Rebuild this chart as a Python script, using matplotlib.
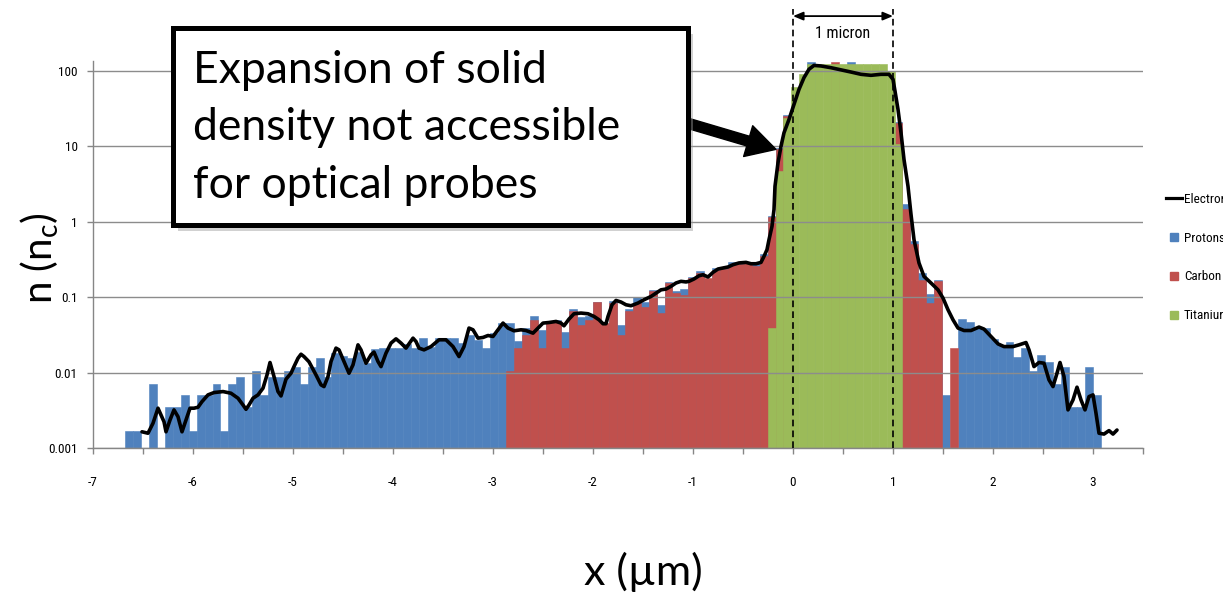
import numpy as np
import matplotlib
matplotlib.use("Agg")
import matplotlib.pyplot as plt
import matplotlib.transforms as mtransforms
from matplotlib.lines import Line2D
from matplotlib.patches import Rectangle
from matplotlib.ticker import FixedLocator, NullLocator

# histogram grid along x (um)
bin_start = -6.677
bin_width = 0.0793
n_bins = 123
n_floor = 0.001

# species densities per bin (n_c); None = no bar
protons = [0.0017, 0.0017, None, 0.0071, None, 0.0035, 0.0035, 0.0051, 0.0017, 0.0051,
           0.0051, 0.0071, 0.0017, 0.0071, 0.0087, 0.0035, 0.0105, 0.0051, 0.0087, 0.0087,
           0.0105, 0.012, 0.0071, 0.012, 0.0158, 0.0087, 0.0184, 0.0168, 0.0158, 0.019,
           0.0133, 0.0205, 0.021, 0.021, 0.021, 0.0238, 0.021, 0.029, 0.022, 0.029,
           0.029, 0.029, 0.025, 0.0317, 0.027, 0.021, 0.033, 0.045, 0.045, 0.026,
           0.039, 0.0555, 0.037, 0.049, 0.050, 0.035, 0.069, 0.055, 0.057, 0.087,
           0.040, 0.088, 0.043, 0.069, 0.10, 0.085, 0.125, 0.079, 0.16, 0.12,
           0.128, 0.185, 0.22, 0.17, 0.24, 0.25, 0.29, 0.29, 0.29, 0.28,
           0.37, 1.2, 9.6, 26, None, None, 130, None, None, None,
           None, 130, None, None, None, None, None, 21, 1.74, 0.55,
           0.21, 0.111, 0.17, 0.0051, None, 0.051, 0.0475, 0.039, 0.039, 0.0278,
           0.0233, 0.0257, 0.016, 0.021, 0.0106, 0.0172, 0.014, 0.0071, 0.0118, 0.0035,
           0.0035, 0.0118, 0.0051]

carbon_first_bin = 48
carbon = [0.0105, 0.021, 0.0317, 0.050, 0.021, 0.0475, 0.048, 0.021, 0.065, 0.043,
          0.050, 0.085, 0.045, 0.084, 0.0317, 0.065, 0.084, 0.075, 0.12, 0.062,
          0.154, 0.115, 0.108, 0.179, 0.21, 0.179, 0.226, 0.235, 0.268, 0.276,
          0.282, 0.255, 0.35, 1.16, 9.3, 25, None, None, None, None,
          None, 130, None, None, None, None, None, None, None, 20.5,
          1.48, 0.50, 0.17, 0.083, 0.166, None, 0.021]

titanium_first_bin = 81
titanium = [0.039, 4.67, 23.9, 61.7, 90, 125, 125, 125, 125, 125,
            125, 125, 125, 125, 125, 100, 10.6]

electron_x = [-6.51, -6.45, -6.40, -6.35, -6.29, -6.27, -6.23, -6.19, -6.15, -6.11,
              -6.07, -6.03, -5.99, -5.95, -5.91, -5.85, -5.79, -5.70, -5.62, -5.55,
              -5.50, -5.47, -5.44, -5.40, -5.35, -5.30, -5.26, -5.23, -5.19, -5.15,
              -5.12, -5.07, -5.02, -4.99, -4.95, -4.92, -4.89, -4.84, -4.77, -4.72,
              -4.69, -4.65, -4.62, -4.57, -4.54, -4.49, -4.44, -4.40, -4.35, -4.32,
              -4.27, -4.22, -4.19, -4.15, -4.12, -4.07, -4.02, -3.97, -3.92, -3.87,
              -3.80, -3.77, -3.74, -3.69, -3.62, -3.54, -3.47, -3.40, -3.34, -3.29,
              -3.24, -3.20, -3.15, -3.10, -3.05, -3.00, -2.95, -2.90, -2.85, -2.79,
              -2.72, -2.67, -2.60, -2.55, -2.50, -2.44, -2.37, -2.32, -2.29, -2.24,
              -2.19, -2.12, -2.05, -1.99, -1.94, -1.90, -1.87, -1.85, -1.81, -1.77,
              -1.72, -1.67, -1.62, -1.55, -1.49, -1.42, -1.37, -1.32, -1.27, -1.22,
              -1.17, -1.12, -1.07, -1.04, -0.99, -0.94, -0.90, -0.85, -0.80, -0.75,
              -0.70, -0.65, -0.60, -0.54, -0.47, -0.42, -0.37, -0.32, -0.29, -0.26,
              -0.24, -0.21, -0.19, -0.18, -0.15, -0.12, -0.09, -0.04, 0.01, 0.06,
              0.11, 0.16, 0.21, 0.28, 0.38, 0.48, 0.58, 0.68, 0.78, 0.88,
              0.96, 1.00, 1.02, 1.05, 1.08, 1.11, 1.15, 1.18, 1.21, 1.26,
              1.31, 1.38, 1.45, 1.50, 1.55, 1.60, 1.65, 1.71, 1.78, 1.86,
              1.91, 1.98, 2.05, 2.11, 2.20, 2.26, 2.33, 2.36, 2.41, 2.46,
              2.51, 2.56, 2.60, 2.64, 2.67, 2.71, 2.75, 2.80, 2.84, 2.88,
              2.92, 2.96, 3.00, 3.03, 3.06, 3.11, 3.16, 3.20, 3.24]
electron_n = [0.00164, 0.00157, 0.00213, 0.00337, 0.00223, 0.00164, 0.00235, 0.0032, 0.0026, 0.00164,
              0.00235, 0.00337, 0.00337, 0.00347, 0.00412, 0.00506, 0.00543, 0.0056, 0.00532, 0.00457,
              0.00372, 0.00326, 0.00372, 0.00457, 0.00506, 0.00621, 0.0093, 0.0136, 0.00885, 0.0056,
              0.0049, 0.00817, 0.0098, 0.012, 0.0155, 0.0175, 0.0163, 0.0139, 0.0093, 0.00687,
              0.00652, 0.00885, 0.014, 0.0211, 0.020, 0.014, 0.0098, 0.01265, 0.0233, 0.020,
              0.0133, 0.0172, 0.0187, 0.014, 0.012, 0.0181, 0.0246, 0.028, 0.0246, 0.0211,
              0.0286, 0.0258, 0.0211, 0.020, 0.0221, 0.0272, 0.0272, 0.0221, 0.0163, 0.0221,
              0.0389, 0.0369, 0.0286, 0.0292, 0.031, 0.0301, 0.0369, 0.0453, 0.0389, 0.0358,
              0.0369, 0.0361, 0.0333, 0.0389, 0.0453, 0.0461, 0.0476, 0.0453, 0.0417, 0.0512,
              0.0602, 0.0615, 0.0602, 0.0555, 0.0501, 0.0444, 0.0444, 0.0555, 0.0792, 0.0904,
              0.0861, 0.0792, 0.0769, 0.0835, 0.0923, 0.102, 0.113, 0.125, 0.128, 0.139,
              0.154, 0.162, 0.159, 0.162, 0.174, 0.192, 0.198, 0.185, 0.213, 0.236,
              0.243, 0.251, 0.269, 0.284, 0.289, 0.277, 0.277, 0.289, 0.347, 0.426,
              0.578, 0.869, 1.45, 2.95, 6.04, 10.0, 15.1, 22.7, 35.9, 56.8,
              81.2, 105, 118, 116, 110, 103, 96.4, 89.9, 87.2, 89.9,
              89.9, 77.1, 53.9, 30.8, 15.1, 6.68, 2.95, 1.25, 0.578, 0.284,
              0.188, 0.154, 0.125, 0.0973, 0.068, 0.0501, 0.0389, 0.0361, 0.0361, 0.0401,
              0.0377, 0.0301, 0.024, 0.0221, 0.0221, 0.0233, 0.025, 0.020, 0.012, 0.0136,
              0.0133, 0.008, 0.00652, 0.0098, 0.0136, 0.00885, 0.0032, 0.00434, 0.0064, 0.00434,
              0.0032, 0.0048, 0.00506, 0.00289, 0.00157, 0.00153, 0.0017, 0.00153, 0.00173]

y_ticks = [0.001, 0.01, 0.1, 1, 10, 100]
y_tick_labels = ["0.001", "0.01", "0.1", "1", "10", "100"]
x_tick_labels = ["-7", "-6", "-5", "-4", "-3", "-2", "-1", "0", "1", "2", "3"]
target_edges = [0.0, 1.0]
note = "Expansion of solid\ndensity not accessible\nfor optical probes"

c_prot = "#4F81BD"
c_carb = "#C0504D"
c_tita = "#9BBB59"
c_axis = "#868686"
small_font = dict(family=["Roboto Condensed", "Liberation Sans Narrow", "DejaVu Sans"],
                  stretch="condensed")
big_font = ["Lato", "DejaVu Sans"]

W, H = 1223, 594
fig = plt.figure(figsize=(W / 100, H / 100), dpi=100)
ax = fig.add_axes([93 / W, 1 - 448 / H, 1050 / W, 387 / H])
ax.set_yscale("log")

edges = bin_start + bin_width * np.arange(n_bins)


def draw_species(first, values, color, label):
    vals = np.array(values, dtype=float)
    left = edges[first:first + len(vals)]
    ok = ~np.isnan(vals)
    ax.bar(left[ok], vals[ok] - n_floor, bottom=n_floor, width=bin_width,
           align="edge", color=color, edgecolor=color, linewidth=0.4, label=label, zorder=1)


draw_species(0, protons, c_prot, "Protons")
draw_species(carbon_first_bin, carbon, c_carb, "Carbon")
draw_species(titanium_first_bin, titanium, c_tita, "Titanium")
ax.plot(electron_x, electron_n, color="black", lw=2.6, solid_joinstyle="round",
        solid_capstyle="round", zorder=4)

ax.set_xlim(-7, 3.5)
ax.set_ylim(n_floor, 135)

# axes styling
for side in ("top", "right"):
    ax.spines[side].set_visible(False)
for side in ("left", "bottom"):
    ax.spines[side].set_color(c_axis)
    ax.spines[side].set_linewidth(1.0)
ax.set_axisbelow(False)
ax.yaxis.set_major_locator(FixedLocator(y_ticks))
ax.yaxis.set_minor_locator(NullLocator())
ax.set_yticklabels(y_tick_labels, fontsize=9.5, **small_font)
ax.yaxis.grid(True, color="#8c8c8c", linewidth=1.0, zorder=3)
x_ticks = np.arange(-7, 3.51, 0.5)
ax.set_xticks(x_ticks)
labels = iter(x_tick_labels)
ax.set_xticklabels([next(labels) if float(t).is_integer() else "" for t in x_ticks],
                   fontsize=9.5, **small_font)
ax.tick_params(axis="both", colors=c_axis, length=4, width=1.0, labelcolor="black")
ax.tick_params(axis="x", pad=16)
ax.tick_params(axis="y", pad=7)

# 1 micron marker above the target
trans = mtransforms.blended_transform_factory(ax.transData, ax.transAxes)
for xe in target_edges:
    ax.plot([xe, xe], [0, 1.135], transform=trans, color="black", lw=1.2,
            ls=(0, (4, 2.5)), clip_on=False, zorder=5)
ax.annotate("", xy=(target_edges[1], 1.116), xytext=(target_edges[0], 1.116),
            xycoords=trans, textcoords=trans,
            arrowprops=dict(arrowstyle="<|-|>,head_length=0.6,head_width=0.25",
                            color="black", lw=1.3, shrinkA=0, shrinkB=0))
ax.text(0.5 * (target_edges[0] + target_edges[1]), 1.072, "1 micron", transform=trans,
        ha="center", va="center", fontsize=11.5, **small_font)

# arrow from the note onto the steep density rise
ax.annotate("", xy=(-0.17, 9.1), xytext=(-1.08, 20.7),
            arrowprops=dict(arrowstyle="simple,head_length=0.95,head_width=1.05,tail_width=0.33",
                            mutation_scale=22, color="black", shrinkA=0, shrinkB=0),
            zorder=6)

# note box with a soft shadow
fig.patches.append(Rectangle((178 / W, 1 - 231 / H), 515 / W, 197 / H, transform=fig.transFigure,
                             facecolor="#9a9a9a", edgecolor="none", alpha=0.45, zorder=4))
fig.patches.append(Rectangle((173 / W, 1 - 225 / H), 515 / W, 197 / H, transform=fig.transFigure,
                             facecolor="white", edgecolor="black", linewidth=3.6, zorder=5))
fig.text(193 / W, 1 - 128 / H, note, fontsize=32, family=big_font, ha="left", va="center",
         linespacing=1.5, zorder=6)

# axis titles
fig.text(40 / W, 1 - 258 / H, r"n (n$_\mathregular{c}$)", rotation=90, fontsize=29,
         family=big_font, ha="center", va="center")
fig.text(643 / W, 1 - 572 / H, "x (µm)", fontsize=31, family=big_font, ha="center", va="center")

# legend sits at the right edge of the canvas
handles = [Line2D([], [], color="black", lw=2.3),
           Line2D([], [], color=c_prot, marker="s", ls="none", markersize=5.5),
           Line2D([], [], color=c_carb, marker="s", ls="none", markersize=5.5),
           Line2D([], [], color=c_tita, marker="s", ls="none", markersize=5.5)]
fig.legend(handles, ["Electrons", "Protons", "Carbon", "Titanium"], loc="upper left",
           bbox_to_anchor=(1166 / W, 1 - 193 / H), frameon=False, handlelength=1.2,
           handletextpad=0.15, labelspacing=1.95, borderpad=0, borderaxespad=0,
           prop=dict(size=9.5, **small_font))

fig.savefig("out.png", dpi=100)
